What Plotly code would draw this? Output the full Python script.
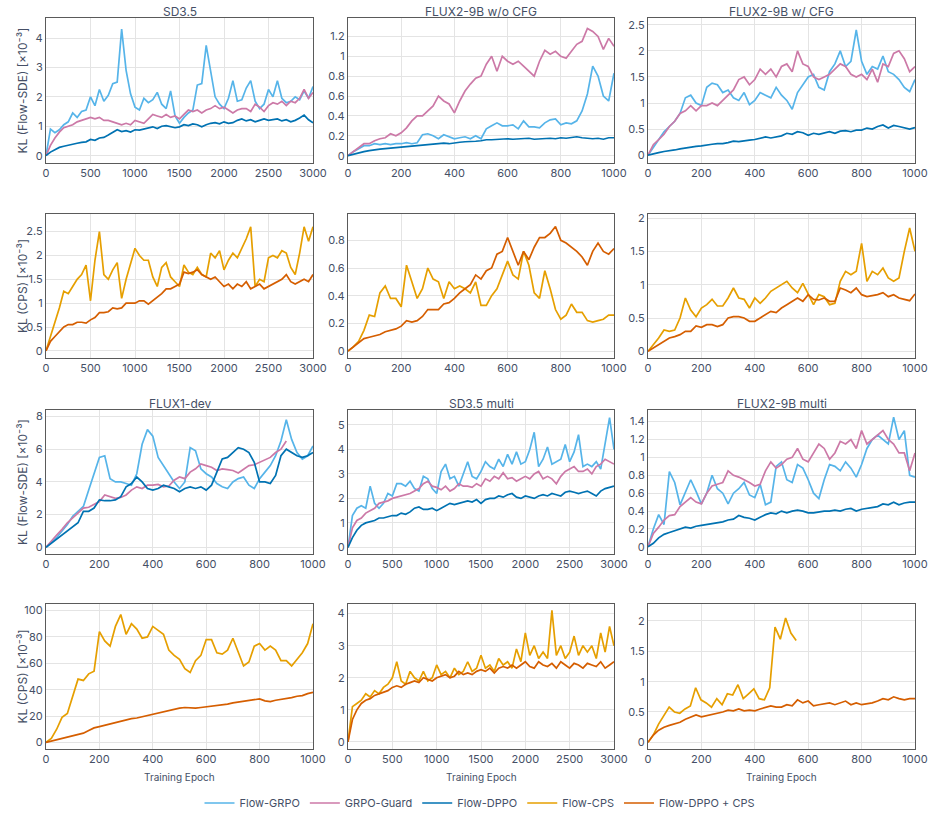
import numpy as np
import plotly.graph_objects as go

# ---------------- colours / names ----------------
NAMES = ["Flow-GRPO", "GRPO-Guard", "Flow-DPPO", "Flow-CPS", "Flow-DPPO + CPS"]
COLORS = {"Flow-GRPO": "#56B4E9", "GRPO-Guard": "#CC79A7", "Flow-DPPO": "#0072B2",
          "Flow-CPS": "#E69F00", "Flow-DPPO + CPS": "#D55E00"}

# ---------------- data ----------------
# SD3.5, KL Flow-SDE, epochs 0..3000 every 50
SD35_SDE_GRPO = [0, 0.9, 0.78, 0.88, 1.05, 1.15, 1.45, 1.3, 1.5, 1.55, 2.0, 1.7, 2.25, 1.85, 2.05, 2.45, 2.5, 4.3, 2.9, 2.1,
                 1.65, 1.55, 1.95, 1.8, 1.9, 2.15, 1.75, 1.6, 2.2, 1.35, 1.1, 1.3, 1.45, 1.55, 2.4, 2.45, 3.75, 2.9, 2.0, 1.75,
                 1.6, 1.95, 2.55, 1.85, 1.9, 2.3, 2.55, 1.85, 1.6, 1.75, 2.25, 2.0, 2.55, 1.95, 1.8, 1.85, 2.0, 1.9, 2.2, 1.95, 2.35]
SD35_SDE_GUARD = [0, 0.35, 0.6, 0.8, 0.95, 1.0, 1.05, 1.15, 1.2, 1.25, 1.3, 1.25, 1.3, 1.2, 1.2, 1.15, 1.1, 1.05, 1.1, 1.05,
                  1.2, 1.15, 1.1, 1.25, 1.4, 1.35, 1.3, 1.4, 1.3, 1.35, 1.25, 1.4, 1.55, 1.5, 1.55, 1.45, 1.55, 1.6, 1.7, 1.6,
                  1.65, 1.55, 1.45, 1.55, 1.6, 1.6, 1.5, 1.75, 1.65, 1.5, 1.7, 1.8, 1.75, 1.85, 1.7, 1.85, 1.8, 1.95, 2.25, 1.95, 2.15]
SD35_SDE_DPPO = [0, 0.12, 0.2, 0.28, 0.32, 0.36, 0.4, 0.42, 0.45, 0.47, 0.55, 0.52, 0.6, 0.62, 0.7, 0.8, 0.88, 0.82, 0.85, 0.8,
                 0.88, 0.87, 0.9, 0.95, 0.98, 0.92, 1.0, 1.02, 0.98, 0.95, 0.98, 1.05, 1.02, 1.08, 1.05, 0.98, 1.05, 1.1, 1.12, 1.08,
                 1.15, 1.1, 1.12, 1.2, 1.25, 1.18, 1.22, 1.15, 1.2, 1.25, 1.2, 1.22, 1.25, 1.18, 1.22, 1.15, 1.2, 1.28, 1.38, 1.22, 1.12]

# FLUX2-9B w/o CFG, KL Flow-SDE, epochs 0..1000 every 20
F2NOCFG_SDE_GRPO = [0, 0.04, 0.07, 0.1, 0.1, 0.12, 0.11, 0.12, 0.11, 0.12, 0.12, 0.13, 0.12, 0.13, 0.21, 0.22, 0.2, 0.17, 0.21, 0.19,
                    0.17, 0.18, 0.19, 0.17, 0.2, 0.17, 0.27, 0.3, 0.33, 0.3, 0.3, 0.31, 0.27, 0.35, 0.29, 0.29, 0.28, 0.33, 0.36, 0.37,
                    0.31, 0.33, 0.32, 0.35, 0.45, 0.62, 0.9, 0.8, 0.6, 0.55, 0.83]
F2NOCFG_SDE_GUARD = [0, 0.04, 0.08, 0.12, 0.12, 0.15, 0.17, 0.18, 0.22, 0.2, 0.23, 0.28, 0.35, 0.4, 0.4, 0.45, 0.5, 0.6, 0.55, 0.52,
                     0.43, 0.55, 0.65, 0.72, 0.78, 0.8, 0.92, 1.0, 0.85, 1.0, 0.95, 0.92, 0.95, 0.9, 0.85, 0.8, 0.95, 1.06, 1.02, 1.05,
                     1.0, 0.98, 1.05, 1.12, 1.15, 1.28, 1.25, 1.2, 1.07, 1.18, 1.1]
F2NOCFG_SDE_DPPO = [0, 0.015, 0.03, 0.04, 0.05, 0.06, 0.065, 0.07, 0.075, 0.08, 0.09, 0.095, 0.1, 0.1, 0.11, 0.115, 0.12, 0.125, 0.125, 0.12,
                    0.13, 0.135, 0.14, 0.14, 0.145, 0.15, 0.16, 0.16, 0.165, 0.165, 0.17, 0.165, 0.17, 0.17, 0.175, 0.165, 0.17, 0.17, 0.175, 0.17,
                    0.18, 0.175, 0.185, 0.19, 0.18, 0.175, 0.17, 0.175, 0.165, 0.18, 0.18]

# FLUX2-9B w/ CFG, KL Flow-SDE, epochs 0..1000 every 20
F2CFG_SDE_GRPO = [0, 0.15, 0.3, 0.45, 0.55, 0.65, 0.8, 1.1, 1.15, 1.0, 0.95, 1.3, 1.38, 1.35, 1.2, 1.25, 1.1, 1.05, 1.2, 0.97,
                  1.05, 1.2, 1.15, 1.1, 1.3, 1.15, 1.05, 0.88, 1.2, 1.35, 1.5, 1.55, 1.3, 1.25, 1.6, 1.75, 2.0, 1.7, 1.8, 2.4,
                  1.8, 1.55, 1.7, 1.65, 1.9, 1.6, 1.55, 1.45, 1.3, 1.22, 1.45]
F2CFG_SDE_GUARD = [0, 0.2, 0.3, 0.4, 0.55, 0.65, 0.8, 0.85, 0.95, 0.85, 0.95, 0.95, 1.0, 0.95, 1.05, 1.15, 1.25, 1.45, 1.5, 1.35,
                   1.45, 1.65, 1.55, 1.65, 1.5, 1.7, 1.75, 1.6, 2.0, 1.75, 1.7, 1.5, 1.45, 1.5, 1.55, 1.65, 1.75, 1.7, 1.55, 1.5,
                   1.55, 1.45, 1.65, 1.4, 1.75, 1.7, 1.95, 2.0, 1.85, 1.6, 1.7]
F2CFG_SDE_DPPO = [0, 0.03, 0.05, 0.07, 0.08, 0.1, 0.12, 0.14, 0.15, 0.17, 0.18, 0.2, 0.21, 0.22, 0.22, 0.24, 0.27, 0.26, 0.28, 0.29,
                  0.3, 0.32, 0.35, 0.33, 0.35, 0.37, 0.42, 0.4, 0.45, 0.43, 0.38, 0.42, 0.4, 0.43, 0.45, 0.42, 0.46, 0.47, 0.45, 0.48,
                  0.48, 0.52, 0.5, 0.55, 0.58, 0.52, 0.57, 0.55, 0.53, 0.5, 0.53]

# SD3.5, KL CPS, epochs 0..3000 every 50
SD35_CPS_CPS = [0, 0.3, 0.55, 0.9, 1.25, 1.2, 1.35, 1.5, 1.6, 1.8, 1.05, 1.9, 2.5, 1.6, 1.5, 1.7, 1.85, 1.1, 1.5, 1.8,
                2.15, 2.0, 1.9, 1.9, 1.55, 1.35, 1.75, 1.85, 1.55, 1.45, 1.35, 1.8, 1.65, 1.6, 1.75, 1.6, 1.55, 2.05, 1.95, 2.1,
                1.7, 1.9, 2.05, 1.95, 2.15, 2.35, 2.6, 1.35, 1.5, 1.45, 1.95, 2.0, 1.95, 2.1, 2.05, 1.75, 1.6, 2.05, 2.6, 2.3, 2.6]
SD35_CPS_DPPOCPS = [0, 0.2, 0.3, 0.4, 0.5, 0.55, 0.55, 0.6, 0.6, 0.58, 0.65, 0.7, 0.8, 0.8, 0.82, 0.9, 0.88, 0.9, 1.0, 1.0,
                    1.0, 1.05, 1.05, 0.98, 1.05, 1.12, 1.2, 1.3, 1.3, 1.35, 1.4, 1.65, 1.62, 1.65, 1.7, 1.6, 1.55, 1.5, 1.55, 1.45,
                    1.35, 1.4, 1.3, 1.4, 1.35, 1.45, 1.3, 1.35, 1.4, 1.3, 1.35, 1.4, 1.45, 1.5, 1.6, 1.45, 1.4, 1.45, 1.5, 1.45, 1.6]

# FLUX2-9B w/o CFG, KL CPS, epochs 0..1000 every 20
F2NOCFG_CPS_CPS = [0, 0.03, 0.07, 0.15, 0.26, 0.25, 0.42, 0.47, 0.38, 0.38, 0.32, 0.62, 0.5, 0.38, 0.45, 0.6, 0.52, 0.5, 0.38, 0.5,
                   0.45, 0.47, 0.45, 0.42, 0.5, 0.33, 0.33, 0.4, 0.45, 0.55, 0.65, 0.55, 0.52, 0.72, 0.62, 0.42, 0.38, 0.58, 0.45, 0.3,
                   0.23, 0.26, 0.34, 0.28, 0.28, 0.22, 0.21, 0.22, 0.23, 0.26, 0.26]
F2NOCFG_CPS_DPPOCPS = [0, 0.03, 0.06, 0.09, 0.1, 0.11, 0.12, 0.14, 0.15, 0.16, 0.18, 0.22, 0.21, 0.22, 0.25, 0.3, 0.3, 0.3, 0.34, 0.35,
                       0.38, 0.42, 0.45, 0.48, 0.55, 0.52, 0.58, 0.6, 0.7, 0.72, 0.82, 0.72, 0.62, 0.72, 0.66, 0.75, 0.82, 0.82, 0.85, 0.9,
                       0.8, 0.78, 0.75, 0.72, 0.68, 0.62, 0.72, 0.78, 0.72, 0.7, 0.74]

# FLUX2-9B w/ CFG, KL CPS, epochs 0..1000 every 20
F2CFG_CPS_CPS = [0, 0.1, 0.2, 0.32, 0.3, 0.32, 0.5, 0.8, 0.62, 0.52, 0.65, 0.7, 0.78, 0.68, 0.68, 0.8, 0.95, 0.8, 0.78, 0.65,
                 0.8, 0.72, 0.8, 0.9, 0.95, 1.0, 1.05, 0.95, 0.88, 1.02, 0.85, 0.7, 0.85, 0.82, 0.7, 0.72, 1.05, 1.2, 1.15, 1.2,
                 1.62, 1.05, 1.2, 1.15, 1.25, 1.1, 1.05, 1.1, 1.5, 1.85, 1.5]
F2CFG_CPS_DPPOCPS = [0, 0.05, 0.1, 0.15, 0.2, 0.22, 0.25, 0.3, 0.3, 0.38, 0.36, 0.4, 0.4, 0.37, 0.4, 0.5, 0.52, 0.52, 0.5, 0.45,
                     0.45, 0.5, 0.55, 0.6, 0.58, 0.65, 0.7, 0.75, 0.8, 0.75, 0.85, 0.78, 0.77, 0.8, 0.75, 0.75, 0.95, 0.92, 0.88, 0.95,
                     0.85, 0.82, 0.83, 0.85, 0.88, 0.82, 0.85, 0.8, 0.78, 0.76, 0.86]

# FLUX1-dev, KL Flow-SDE, epochs 0..1000 every 20 (GRPO-Guard stops at 900)
F1_SDE_GRPO = [0, 0.3, 0.6, 1.0, 1.4, 1.9, 2.2, 2.5, 3.5, 4.5, 5.5, 5.6, 4.2, 4.0, 4.0, 3.9, 3.8, 4.5, 6.3, 7.2,
               6.8, 5.5, 5.0, 4.5, 4.0, 3.6, 4.0, 6.1, 5.9, 4.8, 4.5, 4.3, 3.9, 3.7, 3.6, 4.0, 4.2, 4.3, 3.8, 3.6,
               4.2, 4.6, 5.0, 5.6, 6.5, 7.8, 6.6, 5.8, 5.4, 5.6, 6.2]
F1_SDE_GUARD = [0, 0.4, 0.75, 1.1, 1.5, 1.8, 2.1, 2.4, 2.45, 2.6, 2.8, 3.2, 3.1, 3.0, 3.05, 3.2, 3.5, 3.7, 3.6, 3.8,
                3.8, 3.85, 3.7, 3.75, 4.1, 4.3, 4.2, 4.6, 4.8, 5.1, 5.0, 4.9, 4.7, 4.8, 4.75, 4.7, 4.55, 4.8, 5.0, 5.05,
                5.2, 5.4, 5.5, 5.8, 6.0, 6.5]
F1_SDE_DPPO = [0, 0.25, 0.5, 0.75, 0.95, 1.2, 1.5, 2.2, 2.2, 2.4, 2.9, 2.85, 2.85, 2.9, 3.1, 3.7, 3.9, 4.3, 4.0, 3.6,
               3.5, 3.6, 3.8, 3.7, 3.6, 3.4, 3.6, 3.7, 3.6, 3.7, 3.5, 3.8, 4.6, 5.4, 5.5, 5.8, 6.1, 6.0, 5.8, 5.2,
               4.0, 4.0, 3.9, 4.4, 5.6, 6.0, 5.8, 5.6, 5.5, 5.6, 5.8]

# SD3.5 multi, KL Flow-SDE, epochs 0..3000 every 50
SD35M_SDE_GRPO = [0, 1.3, 1.6, 1.7, 1.6, 2.5, 1.8, 1.6, 1.8, 2.2, 2.1, 2.6, 2.6, 2.5, 2.7, 2.4, 2.3, 2.9, 2.8, 2.4,
                  2.2, 3.1, 3.4, 2.8, 2.9, 2.5, 3.0, 3.5, 2.9, 2.8, 3.1, 3.5, 3.3, 3.2, 3.6, 3.3, 3.8, 3.4, 3.9, 3.4,
                  3.5, 4.0, 4.7, 3.3, 3.6, 4.1, 3.4, 3.5, 3.6, 4.2, 3.5, 3.9, 4.6, 3.3, 3.4, 3.3, 3.5, 3.2, 4.2, 5.3, 4.0]
SD35M_SDE_GUARD = [0, 0.8, 1.1, 1.2, 1.4, 1.5, 1.6, 1.8, 1.85, 1.9, 2.0, 2.05, 2.1, 2.15, 2.2, 2.3, 2.4, 2.6, 2.7, 2.5,
                   2.45, 2.35, 2.5, 2.3, 2.4, 2.6, 2.5, 2.5, 2.45, 2.6, 2.5, 2.8, 2.7, 2.9, 2.8, 3.05, 2.8, 2.85, 2.7, 2.8,
                   2.9, 2.8, 3.0, 3.1, 2.8, 2.9, 2.8, 2.6, 2.9, 3.1, 3.2, 3.3, 3.1, 3.1, 3.2, 3.0, 3.3, 3.4, 3.6, 3.5, 3.4]
SD35M_SDE_DPPO = [0, 0.4, 0.7, 0.9, 1.0, 1.05, 1.1, 1.2, 1.2, 1.25, 1.3, 1.3, 1.4, 1.35, 1.45, 1.6, 1.65, 1.55, 1.55, 1.6,
                  1.5, 1.6, 1.7, 1.8, 1.75, 1.8, 1.85, 1.9, 1.85, 1.95, 1.8, 1.95, 2.0, 2.0, 2.1, 2.05, 2.15, 2.2, 2.05, 2.0,
                  2.1, 2.05, 2.0, 2.1, 2.15, 2.1, 2.2, 2.15, 2.1, 2.25, 2.3, 2.25, 2.2, 2.25, 2.3, 2.2, 2.1, 2.3, 2.4, 2.45, 2.5]

# FLUX2-9B multi, KL Flow-SDE, epochs 0..1000 every 20
F2M_SDE_GRPO = [0, 0.2, 0.36, 0.25, 0.84, 0.72, 0.47, 0.62, 0.75, 0.62, 0.48, 0.6, 0.8, 0.65, 0.6, 0.48, 0.6, 0.65, 0.72, 0.58,
                0.55, 0.7, 0.47, 0.5, 0.9, 0.95, 0.75, 0.72, 0.92, 0.88, 0.75, 0.6, 0.54, 0.75, 0.92, 0.9, 0.85, 0.95, 0.88, 0.78,
                0.92, 1.1, 1.2, 1.25, 1.2, 1.15, 1.45, 1.2, 1.3, 0.8, 0.78]
F2M_SDE_GUARD = [0, 0.15, 0.22, 0.3, 0.35, 0.36, 0.45, 0.5, 0.55, 0.5, 0.48, 0.6, 0.68, 0.7, 0.72, 0.85, 0.8, 0.78, 0.75, 0.72,
                 0.68, 0.7, 0.85, 0.95, 0.88, 0.92, 0.98, 1.0, 1.1, 0.98, 0.95, 1.05, 1.15, 1.1, 0.98, 1.05, 1.18, 1.15, 1.2, 1.1,
                 1.3, 1.15, 1.2, 1.25, 1.3, 1.2, 1.15, 1.05, 1.05, 0.85, 1.05]
F2M_SDE_DPPO = [0, 0.04, 0.1, 0.14, 0.16, 0.18, 0.2, 0.22, 0.21, 0.23, 0.24, 0.25, 0.26, 0.27, 0.28, 0.3, 0.31, 0.35, 0.33, 0.32,
                0.3, 0.33, 0.36, 0.38, 0.37, 0.4, 0.38, 0.4, 0.41, 0.4, 0.38, 0.38, 0.39, 0.4, 0.4, 0.41, 0.4, 0.42, 0.43, 0.4,
                0.42, 0.43, 0.44, 0.45, 0.48, 0.47, 0.5, 0.47, 0.49, 0.5, 0.5]

# FLUX1-dev, KL CPS, epochs 0..1000 every 20
F1_CPS_CPS = [0, 3, 10, 19, 22, 35, 48, 47, 52, 54, 84, 77, 73, 88, 97, 82, 90, 86, 79, 80,
              88, 85, 82, 70, 66, 63, 56, 53, 62, 66, 78, 78, 68, 67, 70, 79, 68, 58, 61, 73,
              75, 70, 73, 70, 62, 62, 58, 63, 68, 75, 90]
F1_CPS_DPPOCPS = [0, 1, 2, 3, 4, 5, 6, 7, 9, 11, 12, 13, 14.5, 15.5, 16.5, 17, 18, 18.5, 19.5, 20.5,
                  21, 22, 23, 24, 25, 26, 26.5, 26, 26, 26.5, 27, 27.5, 28, 28, 29, 30, 30.5, 31, 32, 32.5,
                  33, 31.5, 31, 32, 32.5, 33, 34, 35, 35.5, 37, 38]

# SD3.5 multi, KL CPS, epochs 0..3000 every 50
SD35M_CPS_CPS = [0, 1.1, 1.2, 1.3, 1.5, 1.4, 1.6, 1.5, 1.7, 1.8, 2.0, 2.5, 1.9, 1.8, 2.2, 2.0, 1.9, 2.2, 1.9, 2.0,
                 2.4, 2.1, 2.2, 2.0, 2.3, 2.1, 2.2, 2.5, 2.2, 2.3, 2.7, 2.3, 2.4, 2.2, 2.6, 2.4, 2.5, 2.3, 2.9, 2.5,
                 3.4, 2.7, 3.0, 2.6, 2.8, 2.6, 4.1, 2.7, 3.0, 2.6, 2.8, 3.3, 2.7, 3.0, 2.8, 3.0, 2.6, 3.4, 2.8, 3.6, 3.0]
SD35M_CPS_DPPOCPS = [0, 0.7, 1.0, 1.2, 1.3, 1.35, 1.45, 1.5, 1.55, 1.6, 1.7, 1.75, 1.7, 1.8, 1.85, 1.9, 1.85, 2.0, 1.95, 1.9,
                     2.0, 2.05, 2.1, 2.0, 2.05, 2.2, 2.1, 2.15, 2.1, 2.2, 2.25, 2.2, 2.3, 2.15, 2.3, 2.35, 2.3, 2.4, 2.3, 2.4,
                     2.5, 2.35, 2.3, 2.5, 2.4, 2.35, 2.45, 2.3, 2.5, 2.4, 2.3, 2.45, 2.4, 2.3, 2.45, 2.4, 2.35, 2.5, 2.3, 2.4, 2.5]

# FLUX2-9B multi, KL CPS, epochs 0..1000 every 20 (Flow-CPS stops at ~555)
F2M_CPS_CPS = [0, 0.12, 0.3, 0.45, 0.58, 0.5, 0.48, 0.55, 0.6, 0.9, 0.7, 0.65, 0.58, 0.72, 0.62, 0.8, 0.78, 0.95, 0.72, 0.8,
               0.88, 0.72, 0.7, 0.9, 1.9, 1.7, 2.05, 1.8, 1.68]
F2M_CPS_DPPOCPS = [0, 0.12, 0.2, 0.25, 0.28, 0.3, 0.33, 0.38, 0.42, 0.45, 0.42, 0.44, 0.45, 0.48, 0.5, 0.53, 0.52, 0.55, 0.52, 0.53,
                   0.52, 0.55, 0.58, 0.6, 0.58, 0.58, 0.62, 0.6, 0.7, 0.65, 0.68, 0.6, 0.62, 0.63, 0.65, 0.62, 0.65, 0.68, 0.62, 0.65,
                   0.62, 0.63, 0.65, 0.68, 0.72, 0.7, 0.75, 0.72, 0.7, 0.72, 0.72]

# ---------------- panel definitions ----------------
PANELS = [
    dict(r=1, c=1, title="SD3.5", xmax=3000, xd=500, yr=[-0.25, 4.68], yd=1,
         series=[("Flow-GRPO", SD35_SDE_GRPO, 3000), ("GRPO-Guard", SD35_SDE_GUARD, 3000), ("Flow-DPPO", SD35_SDE_DPPO, 3000)]),
    dict(r=1, c=2, title="FLUX2-9B w/o CFG", xmax=1000, xd=200, yr=[-0.074, 1.385], yd=0.2,
         series=[("Flow-GRPO", F2NOCFG_SDE_GRPO, 1000), ("GRPO-Guard", F2NOCFG_SDE_GUARD, 1000), ("Flow-DPPO", F2NOCFG_SDE_DPPO, 1000)]),
    dict(r=1, c=3, title="FLUX2-9B w/ CFG", xmax=1000, xd=200, yr=[-0.15, 2.63], yd=0.5,
         series=[("Flow-GRPO", F2CFG_SDE_GRPO, 1000), ("GRPO-Guard", F2CFG_SDE_GUARD, 1000), ("Flow-DPPO", F2CFG_SDE_DPPO, 1000)]),
    dict(r=2, c=1, title=None, xmax=3000, xd=500, yr=[-0.15, 2.87], yd=0.5,
         series=[("Flow-CPS", SD35_CPS_CPS, 3000), ("Flow-DPPO + CPS", SD35_CPS_DPPOCPS, 3000)]),
    dict(r=2, c=2, title=None, xmax=1000, xd=200, yr=[-0.05, 0.99], yd=0.2,
         series=[("Flow-CPS", F2NOCFG_CPS_CPS, 1000), ("Flow-DPPO + CPS", F2NOCFG_CPS_DPPOCPS, 1000)]),
    dict(r=2, c=3, title=None, xmax=1000, xd=200, yr=[-0.1, 2.06], yd=0.5,
         series=[("Flow-CPS", F2CFG_CPS_CPS, 1000), ("Flow-DPPO + CPS", F2CFG_CPS_DPPOCPS, 1000)]),
    dict(r=3, c=1, title="FLUX1-dev", xmax=1000, xd=200, yr=[-0.41, 8.4], yd=2,
         series=[("Flow-GRPO", F1_SDE_GRPO, 1000), ("GRPO-Guard", F1_SDE_GUARD, 900), ("Flow-DPPO", F1_SDE_DPPO, 1000)]),
    dict(r=3, c=2, title="SD3.5 multi", xmax=3000, xd=500, yr=[-0.27, 5.61], yd=1,
         series=[("Flow-GRPO", SD35M_SDE_GRPO, 3000), ("GRPO-Guard", SD35M_SDE_GUARD, 3000), ("Flow-DPPO", SD35M_SDE_DPPO, 3000)]),
    dict(r=3, c=3, title="FLUX2-9B multi", xmax=1000, xd=200, yr=[-0.08, 1.53], yd=0.2,
         series=[("Flow-GRPO", F2M_SDE_GRPO, 1000), ("GRPO-Guard", F2M_SDE_GUARD, 1000), ("Flow-DPPO", F2M_SDE_DPPO, 1000)]),
    dict(r=4, c=1, title=None, xmax=1000, xd=200, yr=[-5, 105], yd=20,
         series=[("Flow-CPS", F1_CPS_CPS, 1000), ("Flow-DPPO + CPS", F1_CPS_DPPOCPS, 1000)]),
    dict(r=4, c=2, title=None, xmax=3000, xd=500, yr=[-0.22, 4.3], yd=1,
         series=[("Flow-CPS", SD35M_CPS_CPS, 3000), ("Flow-DPPO + CPS", SD35M_CPS_DPPOCPS, 3000)]),
    dict(r=4, c=3, title=None, xmax=1000, xd=200, yr=[-0.11, 2.28], yd=0.5,
         series=[("Flow-CPS", F2M_CPS_CPS, 555), ("Flow-DPPO + CPS", F2M_CPS_DPPOCPS, 1000)]),
]

ROW_YLABEL = {1: "KL (Flow-SDE) [×10⁻³]", 2: "KL (CPS) [×10⁻³]", 3: "KL (Flow-SDE) [×10⁻³]", 4: "KL (CPS) [×10⁻³]"}

# ---------------- layout geometry ----------------
W, H = 933, 815
COL_PX = [(46, 313), (348, 614), (648, 915)]
ROW_PX = [(18, 163), (214, 358), (410, 554), (604, 749)]
FONT = "Inter, Roboto, 'Noto Sans', sans-serif"
TXT = "#454f66"

fig = go.Figure()
shown = set()
layout = {}
annotations = []
for i, p in enumerate(PANELS, start=1):
    xa = "x" if i == 1 else f"x{i}"
    ya = "y" if i == 1 else f"y{i}"
    for name, vals, xend in p["series"]:
        xs = np.linspace(0, xend, len(vals))
        fig.add_trace(go.Scatter(
            x=xs, y=vals, mode="lines", name=name, legendgroup=name,
            showlegend=name not in shown, xaxis=xa, yaxis=ya,
            line=dict(color=COLORS[name], width=1.7)))
        shown.add(name)
    c0, c1 = COL_PX[p["c"] - 1]
    r0, r1 = ROW_PX[p["r"] - 1]
    common = dict(showgrid=True, gridcolor="#e4e4e4", gridwidth=1, zeroline=False,
                  showline=True, linecolor="#5a5a5a", linewidth=1.2, mirror=True,
                  ticks="", automargin=False, tickfont=dict(family=FONT, size=11, color=TXT))
    layout["xaxis" if i == 1 else f"xaxis{i}"] = dict(
        domain=[c0 / W, c1 / W], anchor=ya, range=[0, p["xmax"]], dtick=p["xd"], tick0=0, **common)
    layout["yaxis" if i == 1 else f"yaxis{i}"] = dict(
        domain=[1 - r1 / H, 1 - r0 / H], anchor=xa, range=p["yr"], dtick=p["yd"], tick0=0, **common)
    if p["title"]:
        annotations.append(dict(text=p["title"], xref="paper", yref="paper", x=(c0 + c1) / 2 / W,
                                y=1 - (r0 - 7) / H, showarrow=False, xanchor="center", yanchor="middle",
                                font=dict(family=FONT, size=12, color=TXT)))
    if p["c"] == 1:
        annotations.append(dict(text=ROW_YLABEL[p["r"]], xref="paper", yref="paper", x=22 / W,
                                y=1 - (r0 + r1) / 2 / H, textangle=-90, showarrow=False,
                                xanchor="center", yanchor="middle",
                                font=dict(family=FONT, size=12, color=TXT)))
    if p["r"] == 4:
        annotations.append(dict(text="Training Epoch", xref="paper", yref="paper", x=(c0 + c1) / 2 / W,
                                y=1 - 777 / H, showarrow=False, xanchor="center", yanchor="middle",
                                font=dict(family=FONT, size=10, color=TXT)))

fig.update_layout(
    width=W, height=H, margin=dict(l=0, r=0, t=0, b=0, autoexpand=False),
    paper_bgcolor="white", plot_bgcolor="white",
    annotations=annotations,
    legend=dict(orientation="h", x=480 / W, y=1 - 803 / H, xanchor="center", yanchor="middle",
                font=dict(family=FONT, size=11, color=TXT), itemwidth=30, tracegroupgap=0,
                bgcolor="rgba(0,0,0,0)"),
    **layout)

fig.write_html("out.html")
